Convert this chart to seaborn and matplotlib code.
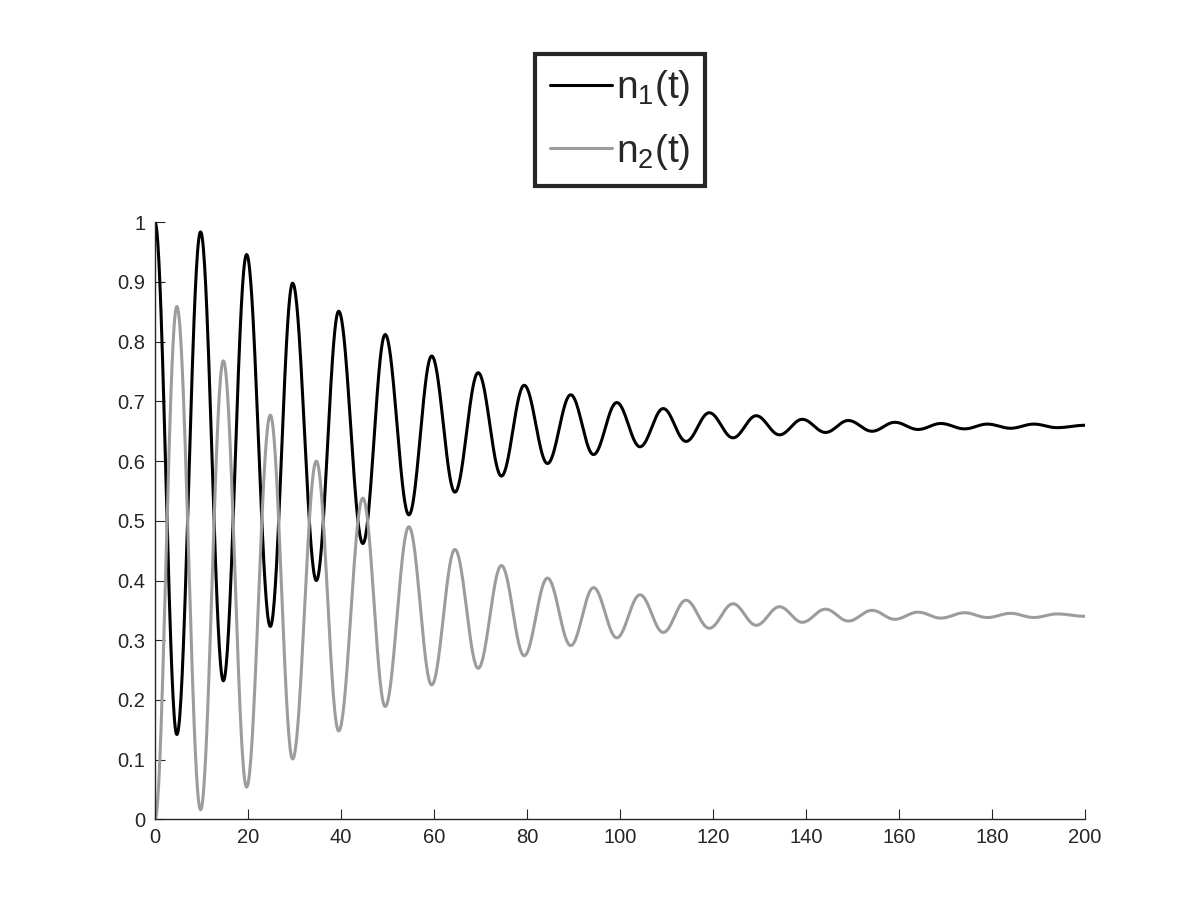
import numpy as np
import pandas as pd
import matplotlib
matplotlib.use("Agg")
import matplotlib.pyplot as plt
import seaborn as sns

# Extrema (time, value)
ext_t = [0, 4.7, 9.8, 14.7, 19.7, 24.8, 29.6, 34.7, 39.5, 44.7, 49.5, 54.6, 59.5,
         64.5, 69.5, 74.5, 79.4, 84.4, 89.4, 94.3, 99.3, 104.3, 109.3, 114.2,
         119.2, 124.3, 129.3, 134.3, 139.2, 144.2, 149.1, 154.2, 159.1, 164.1,
         169.0, 174.1, 179.0, 184.0, 189.0, 194.0, 200.0]
n1_ext = [1.000, 0.142, 0.984, 0.232, 0.946, 0.323, 0.898, 0.400, 0.851, 0.462,
          0.812, 0.510, 0.776, 0.548, 0.748, 0.575, 0.727, 0.596, 0.711, 0.611,
          0.698, 0.624, 0.688, 0.633, 0.681, 0.639, 0.676, 0.644, 0.670, 0.648,
          0.668, 0.650, 0.665, 0.653, 0.663, 0.654, 0.662, 0.655, 0.662, 0.656,
          0.660]
n2_ext = [0.000, 0.859, 0.016, 0.768, 0.054, 0.677, 0.101, 0.600, 0.148, 0.538,
          0.189, 0.490, 0.225, 0.452, 0.253, 0.425, 0.274, 0.404, 0.291, 0.388,
          0.304, 0.376, 0.313, 0.367, 0.320, 0.361, 0.325, 0.356, 0.330, 0.352,
          0.332, 0.350, 0.335, 0.347, 0.337, 0.346, 0.338, 0.345, 0.338, 0.344,
          0.340]
labels = [r"$\mathregular{n_1(t)}$", r"$\mathregular{n_2(t)}$"]
colors = ["#000000", "#9c9c9c"]
xticks = list(range(0, 201, 20))
yticks = [0, 0.1, 0.2, 0.3, 0.4, 0.5, 0.6, 0.7, 0.8, 0.9, 1]
ytick_labels = ["0", "0.1", "0.2", "0.3", "0.4", "0.5", "0.6", "0.7", "0.8", "0.9", "1"]


def smooth_through_extrema(ts, vs, per_seg=40):
    """Join consecutive extrema by half-cosine arcs so the curve is smooth."""
    xs, ys = [], []
    for i in range(len(ts) - 1):
        s = np.linspace(0, 1, per_seg, endpoint=False)
        w = (1 - np.cos(np.pi * s)) / 2
        xs.append(ts[i] + (ts[i + 1] - ts[i]) * s)
        ys.append(vs[i] + (vs[i + 1] - vs[i]) * w)
    xs.append([ts[-1]])
    ys.append([vs[-1]])
    return np.concatenate(xs), np.concatenate(ys)


sns.set_style("ticks")
plt.rcParams["font.family"] = ["Liberation Sans", "DejaVu Sans"]
plt.rcParams["xtick.direction"] = "in"
plt.rcParams["ytick.direction"] = "in"

fig = plt.figure(figsize=(12, 9), dpi=100)
ax = fig.add_axes([155 / 1200, 1 - 819.3 / 900, 930 / 1200, 597 / 900])

frames = []
for ext, lab in zip([n1_ext, n2_ext], labels):
    x, y = smooth_through_extrema(ext_t, ext)
    frames.append(pd.DataFrame({"t": x, "n": y, "series": lab}))
df = pd.concat(frames, ignore_index=True)

sns.lineplot(data=df, x="t", y="n", hue="series", palette=dict(zip(labels, colors)),
             estimator=None, sort=False, linewidth=2.2, ax=ax, legend=False)

ax.set_xlim(0, 200)
ax.set_ylim(0, 1)
ax.set_xticks(xticks)
ax.set_xticklabels([str(v) for v in xticks])
ax.set_yticks(yticks)
ax.set_yticklabels(ytick_labels)
ax.set_xlabel("")
ax.set_ylabel("")
for side in ["top", "right"]:
    ax.spines[side].set_visible(False)
for side in ["left", "bottom"]:
    ax.spines[side].set_color("#262626")
    ax.spines[side].set_linewidth(1.0)
ax.tick_params(axis="both", colors="#262626", labelsize=14.5, length=7, width=0.8)
ax.tick_params(axis="x", pad=6)
ax.tick_params(axis="y", pad=7)

handles = [plt.Line2D([], [], color=c, lw=2.2) for c in colors]
leg = ax.legend(handles, labels, loc="center", bbox_to_anchor=(620 / 1200, 1 - 120 / 900),
                bbox_transform=fig.transFigure, fontsize=28, frameon=True, fancybox=False,
                handlelength=1.6, handletextpad=0.1, labelspacing=0.6,
                borderpad=0.38, borderaxespad=0)
frame = leg.get_frame()
frame.set_edgecolor("#262626")
frame.set_linewidth(3)
frame.set_facecolor("white")
frame.set_alpha(1)

fig.savefig("out.png", dpi=100, facecolor="white")
